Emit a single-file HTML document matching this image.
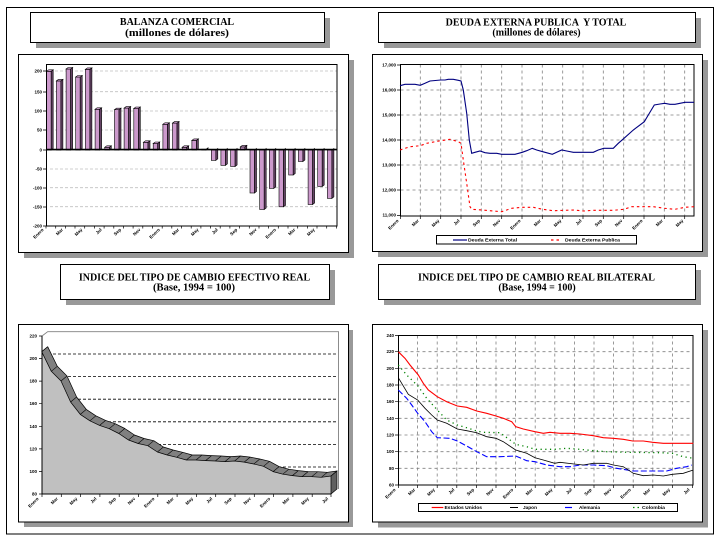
<!DOCTYPE html>
<html><head><meta charset="utf-8">
<style>
html,body{margin:0;padding:0;background:#fff;}
body{width:720px;height:540px;overflow:hidden;}
svg{display:block;}
.ttl{font-family:"Liberation Serif",serif;font-weight:bold;font-size:10px;fill:#000;}
.t{font-family:"Liberation Sans",sans-serif;font-weight:bold;font-size:4.5px;fill:#000;}
.lg{font-family:"Liberation Sans",sans-serif;font-weight:bold;font-size:4.5px;fill:#000;}
.fr{fill:#cc99cc;stroke:#000;stroke-width:0.6;}
.sd{fill:#664466;stroke:#000;stroke-width:0.6;}
.tp{fill:#ddaadd;stroke:#000;stroke-width:0.6;}
</style></head><body>
<svg width="720" height="540" viewBox="0 0 720 540" xmlns="http://www.w3.org/2000/svg">
<rect x="0" y="0" width="720" height="540" fill="#fff"/>
<!-- page border -->
<rect x="6.5" y="7.5" width="707" height="526.5" fill="none" stroke="#000" stroke-width="1"/>

<!-- ===== Title boxes ===== -->
<rect x="36" y="18" width="294" height="30" fill="#999"/>
<rect x="30.5" y="12.5" width="294" height="30" fill="#fff" stroke="#000" stroke-width="1"/>
<text class="ttl" x="177" y="25" text-anchor="middle">BALANZA COMERCIAL</text>
<text class="ttl" x="177" y="36" text-anchor="middle" textLength="104" lengthAdjust="spacingAndGlyphs">(millones de dólares)</text>

<rect x="384" y="18" width="317" height="30" fill="#999"/>
<rect x="378.5" y="12.5" width="317" height="30" fill="#fff" stroke="#000" stroke-width="1"/>
<text class="ttl" x="536" y="25.5" text-anchor="middle" xml:space="preserve">DEUDA EXTERNA PUBLICA  Y TOTAL</text>
<text class="ttl" x="536.5" y="35.5" text-anchor="middle">(millones de dólares)</text>

<rect x="66" y="270" width="269" height="35" fill="#999"/>
<rect x="60.5" y="264.5" width="269" height="35" fill="#fff" stroke="#000" stroke-width="1"/>
<text class="ttl" x="194.5" y="280.5" text-anchor="middle">INDICE DEL TIPO DE CAMBIO EFECTIVO REAL</text>
<text class="ttl" x="194" y="290.5" text-anchor="middle" textLength="82" lengthAdjust="spacingAndGlyphs">(Base, 1994 = 100)</text>

<rect x="384" y="270" width="317" height="35" fill="#999"/>
<rect x="378.5" y="264.5" width="317" height="35" fill="#fff" stroke="#000" stroke-width="1"/>
<text class="ttl" x="536.5" y="280.5" text-anchor="middle">INDICE DEL TIPO DE CAMBIO REAL BILATERAL</text>
<text class="ttl" x="537" y="290.5" text-anchor="middle">(Base, 1994 = 100)</text>

<!-- ===== Chart frames ===== -->
<rect x="24" y="60" width="330" height="198" fill="#999"/>
<rect x="18.5" y="54.5" width="330" height="198" fill="#fff" stroke="#000" stroke-width="1"/>
<rect x="378" y="60" width="330" height="197" fill="#999"/>
<rect x="372.5" y="54.5" width="330" height="197" fill="#fff" stroke="#000" stroke-width="1"/>
<rect x="24" y="330" width="329" height="197" fill="#999"/>
<rect x="18.5" y="324.5" width="330" height="197.5" fill="#fff" stroke="#000" stroke-width="1"/>
<rect x="378" y="330" width="330" height="197.5" fill="#999"/>
<rect x="372.5" y="324.5" width="330" height="197.5" fill="#fff" stroke="#000" stroke-width="1"/>

<!-- ===== Chart 1: Balanza comercial ===== -->
<g stroke="#c0c0c0" stroke-width="0.8" stroke-dasharray="3,2">
<line x1="50" y1="71" x2="337" y2="71"/>
<line x1="50" y1="91.7" x2="337" y2="91.7"/>
<line x1="50" y1="111" x2="337" y2="111"/>
<line x1="50" y1="130" x2="337" y2="130"/>
<line x1="50" y1="169" x2="337" y2="169"/>
<line x1="50" y1="187.7" x2="337" y2="187.7"/>
<line x1="50" y1="206.7" x2="337" y2="206.7"/>
</g>
<rect x="46.5" y="64.5" width="290.5" height="161.5" fill="none" stroke="#000" stroke-width="1"/>
<g>
<g transform="translate(46.7,0)"><rect class="fr" x="0" y="71.3" width="4.5" height="78.7"/><polygon class="sd" points="4.5,71.3 6.5,69.8 6.5,148.5 4.5,150"/><polygon class="tp" points="0,71.3 2,69.8 6.5,69.8 4.5,71.3"/></g>
<g transform="translate(56.4,0)"><rect class="fr" x="0" y="80.9" width="4.5" height="69.1"/><polygon class="sd" points="4.5,80.9 6.5,79.4 6.5,148.5 4.5,150"/><polygon class="tp" points="0,80.9 2,79.4 6.5,79.4 4.5,80.9"/></g>
<g transform="translate(66.1,0)"><rect class="fr" x="0" y="69" width="4.5" height="81"/><polygon class="sd" points="4.5,69 6.5,67.5 6.5,148.5 4.5,150"/><polygon class="tp" points="0,69 2,67.5 6.5,67.5 4.5,69"/></g>
<g transform="translate(75.7,0)"><rect class="fr" x="0" y="77" width="4.5" height="73"/><polygon class="sd" points="4.5,77 6.5,75.5 6.5,148.5 4.5,150"/><polygon class="tp" points="0,77 2,75.5 6.5,75.5 4.5,77"/></g>
<g transform="translate(85.4,0)"><rect class="fr" x="0" y="69.4" width="4.5" height="80.6"/><polygon class="sd" points="4.5,69.4 6.5,67.9 6.5,148.5 4.5,150"/><polygon class="tp" points="0,69.4 2,67.9 6.5,67.9 4.5,69.4"/></g>
<g transform="translate(95.1,0)"><rect class="fr" x="0" y="109.3" width="4.5" height="40.7"/><polygon class="sd" points="4.5,109.3 6.5,107.8 6.5,148.5 4.5,150"/><polygon class="tp" points="0,109.3 2,107.8 6.5,107.8 4.5,109.3"/></g>
<g transform="translate(104.8,0)"><rect class="fr" x="0" y="147.3" width="4.5" height="2.7"/><polygon class="sd" points="4.5,147.3 6.5,145.8 6.5,148.5 4.5,150"/><polygon class="tp" points="0,147.3 2,145.8 6.5,145.8 4.5,147.3"/></g>
<g transform="translate(114.5,0)"><rect class="fr" x="0" y="109.7" width="4.5" height="40.3"/><polygon class="sd" points="4.5,109.7 6.5,108.2 6.5,148.5 4.5,150"/><polygon class="tp" points="0,109.7 2,108.2 6.5,108.2 4.5,109.7"/></g>
<g transform="translate(124.1,0)"><rect class="fr" x="0" y="108.1" width="4.5" height="41.9"/><polygon class="sd" points="4.5,108.1 6.5,106.6 6.5,148.5 4.5,150"/><polygon class="tp" points="0,108.1 2,106.6 6.5,106.6 4.5,108.1"/></g>
<g transform="translate(133.8,0)"><rect class="fr" x="0" y="108.5" width="4.5" height="41.5"/><polygon class="sd" points="4.5,108.5 6.5,107 6.5,148.5 4.5,150"/><polygon class="tp" points="0,108.5 2,107 6.5,107 4.5,108.5"/></g>
<g transform="translate(143.5,0)"><rect class="fr" x="0" y="142.3" width="4.5" height="7.7"/><polygon class="sd" points="4.5,142.3 6.5,140.8 6.5,148.5 4.5,150"/><polygon class="tp" points="0,142.3 2,140.8 6.5,140.8 4.5,142.3"/></g>
<g transform="translate(153.2,0)"><rect class="fr" x="0" y="143.5" width="4.5" height="6.5"/><polygon class="sd" points="4.5,143.5 6.5,142 6.5,148.5 4.5,150"/><polygon class="tp" points="0,143.5 2,142 6.5,142 4.5,143.5"/></g>
<g transform="translate(162.9,0)"><rect class="fr" x="0" y="124.3" width="4.5" height="25.7"/><polygon class="sd" points="4.5,124.3 6.5,122.8 6.5,148.5 4.5,150"/><polygon class="tp" points="0,124.3 2,122.8 6.5,122.8 4.5,124.3"/></g>
<g transform="translate(172.5,0)"><rect class="fr" x="0" y="123.1" width="4.5" height="26.9"/><polygon class="sd" points="4.5,123.1 6.5,121.6 6.5,148.5 4.5,150"/><polygon class="tp" points="0,123.1 2,121.6 6.5,121.6 4.5,123.1"/></g>
<g transform="translate(182.2,0)"><rect class="fr" x="0" y="147.3" width="4.5" height="2.7"/><polygon class="sd" points="4.5,147.3 6.5,145.8 6.5,148.5 4.5,150"/><polygon class="tp" points="0,147.3 2,145.8 6.5,145.8 4.5,147.3"/></g>
<g transform="translate(191.9,0)"><rect class="fr" x="0" y="140.4" width="4.5" height="9.6"/><polygon class="sd" points="4.5,140.4 6.5,138.9 6.5,148.5 4.5,150"/><polygon class="tp" points="0,140.4 2,138.9 6.5,138.9 4.5,140.4"/></g>
<g transform="translate(201.6,0)"><rect class="fr" x="0" y="149.2" width="4.5" height="0.8"/><polygon class="sd" points="4.5,149.2 6.5,147.7 6.5,148.5 4.5,150"/></g>
<g transform="translate(211.3,0)"><rect class="fr" x="0" y="150" width="4.5" height="10.4"/><polygon class="sd" points="4.5,150 6.5,148.5 6.5,158.9 4.5,160.4"/></g>
<g transform="translate(220.9,0)"><rect class="fr" x="0" y="150" width="4.5" height="15.4"/><polygon class="sd" points="4.5,150 6.5,148.5 6.5,163.9 4.5,165.4"/></g>
<g transform="translate(230.6,0)"><rect class="fr" x="0" y="150" width="4.5" height="16.5"/><polygon class="sd" points="4.5,150 6.5,148.5 6.5,165 4.5,166.5"/></g>
<g transform="translate(240.3,0)"><rect class="fr" x="0" y="146.9" width="4.5" height="3.1"/><polygon class="sd" points="4.5,146.9 6.5,145.4 6.5,148.5 4.5,150"/><polygon class="tp" points="0,146.9 2,145.4 6.5,145.4 4.5,146.9"/></g>
<g transform="translate(250,0)"><rect class="fr" x="0" y="150" width="4.5" height="43"/><polygon class="sd" points="4.5,150 6.5,148.5 6.5,191.5 4.5,193"/></g>
<g transform="translate(259.7,0)"><rect class="fr" x="0" y="150" width="4.5" height="59.5"/><polygon class="sd" points="4.5,150 6.5,148.5 6.5,208 4.5,209.5"/></g>
<g transform="translate(269.3,0)"><rect class="fr" x="0" y="150" width="4.5" height="38.4"/><polygon class="sd" points="4.5,150 6.5,148.5 6.5,186.9 4.5,188.4"/></g>
<g transform="translate(279,0)"><rect class="fr" x="0" y="150" width="4.5" height="56.8"/><polygon class="sd" points="4.5,150 6.5,148.5 6.5,205.3 4.5,206.8"/></g>
<g transform="translate(288.7,0)"><rect class="fr" x="0" y="150" width="4.5" height="25"/><polygon class="sd" points="4.5,150 6.5,148.5 6.5,173.5 4.5,175"/></g>
<g transform="translate(298.4,0)"><rect class="fr" x="0" y="150" width="4.5" height="11.5"/><polygon class="sd" points="4.5,150 6.5,148.5 6.5,160 4.5,161.5"/></g>
<g transform="translate(308.1,0)"><rect class="fr" x="0" y="150" width="4.5" height="54.5"/><polygon class="sd" points="4.5,150 6.5,148.5 6.5,203 4.5,204.5"/></g>
<g transform="translate(317.7,0)"><rect class="fr" x="0" y="150" width="4.5" height="36.5"/><polygon class="sd" points="4.5,150 6.5,148.5 6.5,185 4.5,186.5"/></g>
<g transform="translate(327.4,0)"><rect class="fr" x="0" y="150" width="4.5" height="48.4"/><polygon class="sd" points="4.5,150 6.5,148.5 6.5,196.9 4.5,198.4"/></g>
</g>
<line x1="46" y1="149.6" x2="337" y2="149.6" stroke="#000" stroke-width="1.6"/>
<g stroke="#000" stroke-width="0.8">
<line x1="43" y1="71" x2="46.5" y2="71"/><line x1="43" y1="92" x2="46.5" y2="92"/><line x1="43" y1="111" x2="46.5" y2="111"/><line x1="43" y1="130" x2="46.5" y2="130"/><line x1="43" y1="150" x2="46.5" y2="150"/><line x1="43" y1="169" x2="46.5" y2="169"/><line x1="43" y1="188" x2="46.5" y2="188"/><line x1="43" y1="207" x2="46.5" y2="207"/><line x1="43" y1="226" x2="46.5" y2="226"/>
</g>
<path d="M46,226v2.5M55.7,226v2.5M65.4,226v2.5M75,226v2.5M84.7,226v2.5M94.4,226v2.5M104.1,226v2.5M113.8,226v2.5M123.4,226v2.5M133.1,226v2.5M142.8,226v2.5M152.5,226v2.5M162.2,226v2.5M171.8,226v2.5M181.5,226v2.5M191.2,226v2.5M200.9,226v2.5M210.6,226v2.5M220.2,226v2.5M229.9,226v2.5M239.6,226v2.5M249.3,226v2.5M259,226v2.5M268.6,226v2.5M278.3,226v2.5M288,226v2.5M297.7,226v2.5M307.4,226v2.5M317,226v2.5M326.7,226v2.5M336.4,226v2.5" stroke="#000" stroke-width="0.7"/>
<g class="t" text-anchor="end">
<text x="42" y="72.5">200</text><text x="42" y="93.5">150</text><text x="42" y="112.5">100</text><text x="42" y="131.5">50</text><text x="42" y="151.5">0</text><text x="42" y="170.5">-50</text><text x="42" y="189.5">-100</text><text x="42" y="208.5">-150</text><text x="42" y="227.5">-200</text>
</g>
<g class="t" text-anchor="end">
<text transform="translate(44,230) rotate(-45)">Enero</text>
<text transform="translate(63.4,230) rotate(-45)">Mar</text>
<text transform="translate(82.7,230) rotate(-45)">May</text>
<text transform="translate(102.1,230) rotate(-45)">Jul</text>
<text transform="translate(121.4,230) rotate(-45)">Sep</text>
<text transform="translate(140.8,230) rotate(-45)">Nov</text>
<text transform="translate(160.2,230) rotate(-45)">Enero</text>
<text transform="translate(179.5,230) rotate(-45)">Mar</text>
<text transform="translate(198.9,230) rotate(-45)">May</text>
<text transform="translate(218.2,230) rotate(-45)">Jul</text>
<text transform="translate(237.6,230) rotate(-45)">Sep</text>
<text transform="translate(257,230) rotate(-45)">Nov</text>
<text transform="translate(276.3,230) rotate(-45)">Enero</text>
<text transform="translate(295.7,230) rotate(-45)">Mar</text>
<text transform="translate(315,230) rotate(-45)">May</text>
</g>

<!-- ===== Chart 2: Deuda externa ===== -->
<g stroke="#808080" stroke-width="0.8" stroke-dasharray="3,3">
<line x1="420.3" y1="64.5" x2="420.3" y2="216"/><line x1="440.7" y1="64.5" x2="440.7" y2="216"/><line x1="461" y1="64.5" x2="461" y2="216"/><line x1="481.3" y1="64.5" x2="481.3" y2="216"/><line x1="501.7" y1="64.5" x2="501.7" y2="216"/><line x1="522" y1="64.5" x2="522" y2="216"/><line x1="542.3" y1="64.5" x2="542.3" y2="216"/><line x1="562.7" y1="64.5" x2="562.7" y2="216"/><line x1="583" y1="64.5" x2="583" y2="216"/><line x1="603.3" y1="64.5" x2="603.3" y2="216"/><line x1="623.7" y1="64.5" x2="623.7" y2="216"/><line x1="644" y1="64.5" x2="644" y2="216"/><line x1="664.3" y1="64.5" x2="664.3" y2="216"/><line x1="684.7" y1="64.5" x2="684.7" y2="216"/>
<line x1="400.5" y1="90" x2="694" y2="90"/><line x1="400.5" y1="115" x2="694" y2="115"/><line x1="400.5" y1="140" x2="694" y2="140"/><line x1="400.5" y1="165" x2="694" y2="165"/><line x1="400.5" y1="190" x2="694" y2="190"/>
</g>
<rect x="400.5" y="64.5" width="293.5" height="151.5" fill="none" stroke="#000" stroke-width="1"/>
<polyline fill="none" stroke="#000080" stroke-width="1.1" points="400,85.7 405,84.3 415,84.3 420.3,85.3 425,83.3 430,81 440.7,80 445,80 448.3,79.3 453.3,79.3 458.3,80.3 461,81 463.3,90 466.7,113.3 469.3,140 471.7,153.3 475,152.3 480,151 485,152.7 490,153.3 496.7,153.3 501.7,154.3 515,154.3 522.3,152.3 526.7,150.7 532.3,148.3 536.7,150 542.7,151.7 552.3,154.3 556.7,152.3 561.7,150 566.7,151 573.3,152.3 593.3,152.3 598.3,150 603.7,148.3 613.3,148.3 618.3,143.3 624,138.3 633.3,130 644.3,121.7 648.3,115 654.3,105 660,104 664.7,103.3 670,104.3 675,104.3 680,103.3 685,102.3 694,102.3"/>
<polyline fill="none" stroke="#ff0000" stroke-width="1.1" stroke-dasharray="2.5,3" points="400,150 405,148.3 410,146.7 420.3,145.7 426.7,143.3 440.7,140.7 450,139.3 458.3,141.7 461,143.3 463.3,160 466.7,183.3 470,206.7 471.7,209.3 481.7,210 493.3,211 501.7,211.7 511.7,208.3 522.3,207.3 533.3,207.3 542.7,209.3 553.3,210.7 573.3,210 583.3,211 593.3,210.3 613.3,210.3 624,209.3 631.7,206.7 653.3,206.7 664.7,208.3 675,209.3 685,207.3 694,206.7"/>
<path d="M397,65h3.5M397,90h3.5M397,115h3.5M397,140h3.5M397,165h3.5M397,190h3.5M397,215.5h3.5M400.5,216v3M420.3,216v3M440.7,216v3M461,216v3M481.3,216v3M501.7,216v3M522,216v3M542.3,216v3M562.7,216v3M583,216v3M603.3,216v3M623.7,216v3M644,216v3M664.3,216v3M684.7,216v3" stroke="#000" stroke-width="0.7"/>
<g class="t" text-anchor="end">
<text x="396" y="66.5">17,000</text><text x="396" y="91.5">16,000</text><text x="396" y="116.5">15,000</text><text x="396" y="141.5">14,000</text><text x="396" y="166.5">13,000</text><text x="396" y="191.5">12,000</text><text x="396" y="216.5">11,000</text>
</g>
<g class="t" text-anchor="end">
<text transform="translate(399,221) rotate(-45)">Enero</text>
<text transform="translate(419.3,221) rotate(-45)">Mar</text>
<text transform="translate(439.7,221) rotate(-45)">May</text>
<text transform="translate(460,221) rotate(-45)">Jul</text>
<text transform="translate(480.3,221) rotate(-45)">Sep</text>
<text transform="translate(500.7,221) rotate(-45)">Nov</text>
<text transform="translate(521,221) rotate(-45)">Enero</text>
<text transform="translate(541.3,221) rotate(-45)">Mar</text>
<text transform="translate(561.7,221) rotate(-45)">May</text>
<text transform="translate(582,221) rotate(-45)">Jul</text>
<text transform="translate(602.3,221) rotate(-45)">Sep</text>
<text transform="translate(622.7,221) rotate(-45)">Nov</text>
<text transform="translate(643,221) rotate(-45)">Enero</text>
<text transform="translate(663.3,221) rotate(-45)">Mar</text>
<text transform="translate(683.7,221) rotate(-45)">May</text>
</g>
<rect x="436.5" y="235.5" width="200" height="8.5" fill="#fff" stroke="#000" stroke-width="1"/>
<line x1="453" y1="240" x2="467" y2="240" stroke="#000080" stroke-width="1.2"/>
<text class="lg" x="468" y="241.6" textLength="49" lengthAdjust="spacingAndGlyphs">Deuda Externa Total</text>
<line x1="551" y1="240" x2="559" y2="240" stroke="#ff0000" stroke-width="1.2" stroke-dasharray="2.5,3"/>
<text class="lg" x="565" y="241.6" textLength="55" lengthAdjust="spacingAndGlyphs">Deuda Externa Publica</text>

<!-- ===== Chart 3: Efectivo real (3D area) ===== -->
<path d="M42,336 L47.7,331.7 L338.5,331.7 L338.5,489" fill="none" stroke="#808080" stroke-width="0.9"/>
<g stroke="#000" stroke-width="0.8" stroke-dasharray="3,2">
<line x1="48" y1="354" x2="338" y2="354"/><line x1="48" y1="376.6" x2="338" y2="376.6"/><line x1="48" y1="399.2" x2="338" y2="399.2"/><line x1="48" y1="421.8" x2="338" y2="421.8"/><line x1="48" y1="444.4" x2="338" y2="444.4"/><line x1="48" y1="467" x2="338" y2="467"/>
</g>
<polygon fill="#c0c0c0" stroke="none" points="41.7,351.7 51.3,371.3 61,381 70.6,402 80.3,414.4 89.9,420.8 99.6,425.4 109.2,428.7 118.8,433.5 128.5,440 138.1,443.5 147.8,445.7 157.4,452 167.1,455 176.7,457.3 186.3,460 196,460 205.6,460.6 215.3,461 224.9,461.6 234.6,461 244.2,462.1 253.8,464 263.5,466.3 273.1,471.6 282.8,474.2 292.4,475.6 302.1,476.6 311.7,476.7 321.3,477.3 331,476 331,494 41.7,494"/>
<polygon fill="#808080" stroke="#000" stroke-width="0.7" stroke-linejoin="round" points="41.7,351.7 51.3,371.3 61,381 70.6,402 80.3,414.4 89.9,420.8 99.6,425.4 109.2,428.7 118.8,433.5 128.5,440 138.1,443.5 147.8,445.7 157.4,452 167.1,455 176.7,457.3 186.3,460 196,460 205.6,460.6 215.3,461 224.9,461.6 234.6,461 244.2,462.1 253.8,464 263.5,466.3 273.1,471.6 282.8,474.2 292.4,475.6 302.1,476.6 311.7,476.7 321.3,477.3 331,476 337,471 327.3,472.3 317.7,471.7 308.1,471.6 298.4,470.6 288.8,469.2 279.1,466.6 269.5,461.3 259.8,459 250.2,457.1 240.6,456 230.9,456.6 221.3,456 211.6,455.6 202,455 192.3,455 182.7,452.3 173.1,450 163.4,447 153.8,440.7 144.1,438.5 134.5,435 124.8,428.5 115.2,423.7 105.6,420.4 95.9,415.8 86.3,409.4 76.6,397 67,376 57.3,366.3 47.7,346.7"/>
<path d="M51.3,371.3l6,-5M61,381l6,-5M70.6,402l6,-5M80.3,414.4l6,-5M89.9,420.8l6,-5M99.6,425.4l6,-5M109.2,428.7l6,-5M118.8,433.5l6,-5M128.5,440l6,-5M138.1,443.5l6,-5M147.8,445.7l6,-5M157.4,452l6,-5M167.1,455l6,-5M176.7,457.3l6,-5M186.3,460l6,-5M196,460l6,-5M205.6,460.6l6,-5M215.3,461l6,-5M224.9,461.6l6,-5M234.6,461l6,-5M244.2,462.1l6,-5M253.8,464l6,-5M263.5,466.3l6,-5M273.1,471.6l6,-5M282.8,474.2l6,-5M292.4,475.6l6,-5M302.1,476.6l6,-5M311.7,476.7l6,-5M321.3,477.3l6,-5" stroke="#000" stroke-width="0.6"/>
<polygon fill="#606060" stroke="#000" stroke-width="0.7" points="331,476 337,471 337,489 331,494"/>
<line x1="42" y1="336" x2="42" y2="494" stroke="#000" stroke-width="1"/>
<line x1="42" y1="494" x2="331" y2="494" stroke="#000" stroke-width="1"/>
<path d="M39,336h3M39,358.6h3M39,381.1h3M39,403.7h3M39,426.3h3M39,448.9h3M39,471.4h3M39,494h3M42,494v3M61.3,494v3M80.6,494v3M99.9,494v3M119.2,494v3M138.5,494v3M157.8,494v3M177.1,494v3M196.4,494v3M215.7,494v3M235,494v3M254.3,494v3M273.6,494v3M292.9,494v3M312.2,494v3M331,494v3" stroke="#000" stroke-width="0.7"/>
<g class="t" text-anchor="end">
<text x="37" y="337.5">220</text><text x="37" y="360.1">200</text><text x="37" y="382.6">180</text><text x="37" y="405.2">160</text><text x="37" y="427.8">140</text><text x="37" y="450.4">120</text><text x="37" y="472.9">100</text><text x="37" y="495.5">80</text>
</g>
<g class="t" text-anchor="end">
<text transform="translate(39,499) rotate(-45)">Enero</text>
<text transform="translate(58.3,499) rotate(-45)">Mar</text>
<text transform="translate(77.6,499) rotate(-45)">May</text>
<text transform="translate(96.9,499) rotate(-45)">Jul</text>
<text transform="translate(116.2,499) rotate(-45)">Sep</text>
<text transform="translate(135.5,499) rotate(-45)">Nov</text>
<text transform="translate(154.8,499) rotate(-45)">Enero</text>
<text transform="translate(174.1,499) rotate(-45)">Mar</text>
<text transform="translate(193.4,499) rotate(-45)">May</text>
<text transform="translate(212.7,499) rotate(-45)">Jul</text>
<text transform="translate(232,499) rotate(-45)">Sep</text>
<text transform="translate(251.3,499) rotate(-45)">Nov</text>
<text transform="translate(270.6,499) rotate(-45)">Enero</text>
<text transform="translate(289.9,499) rotate(-45)">Mar</text>
<text transform="translate(309.2,499) rotate(-45)">May</text>
<text transform="translate(328.5,499) rotate(-45)">Jul</text>
</g>

<!-- ===== Chart 4: Real bilateral ===== -->
<g stroke="#808080" stroke-width="0.8" stroke-dasharray="3,3">
<line x1="417.6" y1="335.5" x2="417.6" y2="485"/><line x1="437.2" y1="335.5" x2="437.2" y2="485"/><line x1="456.8" y1="335.5" x2="456.8" y2="485"/><line x1="476.4" y1="335.5" x2="476.4" y2="485"/><line x1="496" y1="335.5" x2="496" y2="485"/><line x1="515.6" y1="335.5" x2="515.6" y2="485"/><line x1="535.2" y1="335.5" x2="535.2" y2="485"/><line x1="554.8" y1="335.5" x2="554.8" y2="485"/><line x1="574.4" y1="335.5" x2="574.4" y2="485"/><line x1="594" y1="335.5" x2="594" y2="485"/><line x1="613.6" y1="335.5" x2="613.6" y2="485"/><line x1="633.2" y1="335.5" x2="633.2" y2="485"/><line x1="652.8" y1="335.5" x2="652.8" y2="485"/><line x1="672.4" y1="335.5" x2="672.4" y2="485"/>
<line x1="398.5" y1="351.7" x2="693" y2="351.7"/><line x1="398.5" y1="368.3" x2="693" y2="368.3"/><line x1="398.5" y1="385" x2="693" y2="385"/><line x1="398.5" y1="401.7" x2="693" y2="401.7"/><line x1="398.5" y1="418.3" x2="693" y2="418.3"/><line x1="398.5" y1="435" x2="693" y2="435"/><line x1="398.5" y1="451.7" x2="693" y2="451.7"/><line x1="398.5" y1="468.3" x2="693" y2="468.3"/>
</g>
<rect x="398.5" y="335.5" width="294.5" height="149.5" fill="none" stroke="#000" stroke-width="1"/>
<polyline fill="none" stroke="#008000" stroke-width="1.3" stroke-dasharray="1.2,3.5" points="398.3,365 406.7,375 417.7,385.7 426.7,398.3 437.3,410 446.7,420 457.3,425 466.7,427.7 476.7,431 483.3,432.3 500,432.7 510,440 515.7,444.3 526.7,446.7 535,449.3 554.7,449.3 566.7,448.3 580,449.3 593.3,450.7 606.7,451.7 626.7,452.3 660,452.7 672.3,453.3 683.3,456.7 693.3,458.3"/>
<polyline fill="none" stroke="#0000ff" stroke-width="1.1" stroke-dasharray="6,2.5" points="398.3,390 406.7,398.3 411.7,405 417.7,413.3 425,421.7 431.7,431.7 437.3,437.7 450,438.3 457.3,441 466.7,446 476.7,451.7 486.7,456.7 500,456.7 515.7,456 526.7,460.7 535,461.7 546.7,465 560,466.7 570,466.7 580,465 593.3,465 606.7,465.7 616.7,468.3 633.3,471 666.7,471 676.7,468.3 686.7,466.7 691.7,465"/>
<polyline fill="none" stroke="#000" stroke-width="0.8" points="398.3,377.7 401.7,383.3 408.3,394.3 417.7,400 425,408.3 431.7,415 437.3,420 446.7,423.3 457.3,429 466.7,430.7 476.7,432.7 486.7,436.7 496,438.3 503.3,441.7 515.7,450 526.7,453.3 535,457.7 543.3,460 554.7,463.3 560,462.3 574,464 583.3,465 593.3,463.3 606.7,463.3 613.3,465 623.3,466.7 633.3,473.3 643.3,475.7 653.3,475 663.3,476 672.3,474.3 683.3,473.3 693.3,470"/>
<polyline fill="none" stroke="#ff0000" stroke-width="1.1" points="398.3,351.7 405,358.3 410,365 418.3,375 423.3,383.3 428.3,390 437.3,396.7 446.7,401.7 457.3,406 466.7,407.3 476.7,411 486.7,413.3 496,416 503.3,418.3 511.7,421.7 515.7,426.7 523.3,429 535,431.7 543.3,433.3 550,432.3 560,433.3 570,433.3 580,434 593.3,435.7 603.3,437.7 613.3,438.3 623.3,439.3 632.7,441 643.3,441 652.7,442.3 663.3,443.3 693.3,443.3"/>
<path d="M395,335.5h3.5M395,351.7h3.5M395,368.3h3.5M395,385h3.5M395,401.7h3.5M395,418.3h3.5M395,435h3.5M395,451.7h3.5M395,468.3h3.5M395,485h3.5M398.5,485v3M417.6,485v3M437.2,485v3M456.8,485v3M476.4,485v3M496,485v3M515.6,485v3M535.2,485v3M554.8,485v3M574.4,485v3M594,485v3M613.6,485v3M633.2,485v3M652.8,485v3M672.4,485v3M692.5,485v3" stroke="#000" stroke-width="0.7"/>
<g class="t" text-anchor="end">
<text x="394" y="337">240</text><text x="394" y="353.2">220</text><text x="394" y="369.8">200</text><text x="394" y="386.5">180</text><text x="394" y="403.2">160</text><text x="394" y="419.8">140</text><text x="394" y="436.5">120</text><text x="394" y="453.2">100</text><text x="394" y="469.8">80</text><text x="394" y="486.5">60</text>
</g>
<g class="t" text-anchor="end">
<text transform="translate(396,490) rotate(-45)">Enero</text>
<text transform="translate(415.6,490) rotate(-45)">Mar</text>
<text transform="translate(435.2,490) rotate(-45)">May</text>
<text transform="translate(454.8,490) rotate(-45)">Jul</text>
<text transform="translate(474.4,490) rotate(-45)">Sep</text>
<text transform="translate(494,490) rotate(-45)">Nov</text>
<text transform="translate(513.6,490) rotate(-45)">Enero</text>
<text transform="translate(533.2,490) rotate(-45)">Mar</text>
<text transform="translate(552.8,490) rotate(-45)">May</text>
<text transform="translate(572.4,490) rotate(-45)">Jul</text>
<text transform="translate(592,490) rotate(-45)">Sep</text>
<text transform="translate(611.6,490) rotate(-45)">Nov</text>
<text transform="translate(631.2,490) rotate(-45)">Enero</text>
<text transform="translate(650.8,490) rotate(-45)">Mar</text>
<text transform="translate(670.4,490) rotate(-45)">May</text>
<text transform="translate(690,490) rotate(-45)">Jul</text>
</g>
<rect x="418.5" y="503.5" width="259" height="8" fill="#fff" stroke="#000" stroke-width="1"/>
<line x1="431.7" y1="507.5" x2="443.3" y2="507.5" stroke="#ff0000" stroke-width="1.2"/>
<text class="lg" x="444.5" y="509.1" textLength="37.5" lengthAdjust="spacingAndGlyphs">Estados Unidos</text>
<line x1="510" y1="507.5" x2="518" y2="507.5" stroke="#000" stroke-width="1"/>
<text class="lg" x="523" y="509.1" textLength="14" lengthAdjust="spacingAndGlyphs">Japon</text>
<line x1="565" y1="507.5" x2="572" y2="507.5" stroke="#0000ff" stroke-width="1.2"/>
<text class="lg" x="579" y="509.1" textLength="21" lengthAdjust="spacingAndGlyphs">Alemania</text>
<line x1="633" y1="507.5" x2="639" y2="507.5" stroke="#008000" stroke-width="1.2" stroke-dasharray="1.5,3"/>
<text class="lg" x="642" y="509.1" textLength="23" lengthAdjust="spacingAndGlyphs">Colombia</text>
</svg>
</body></html>
